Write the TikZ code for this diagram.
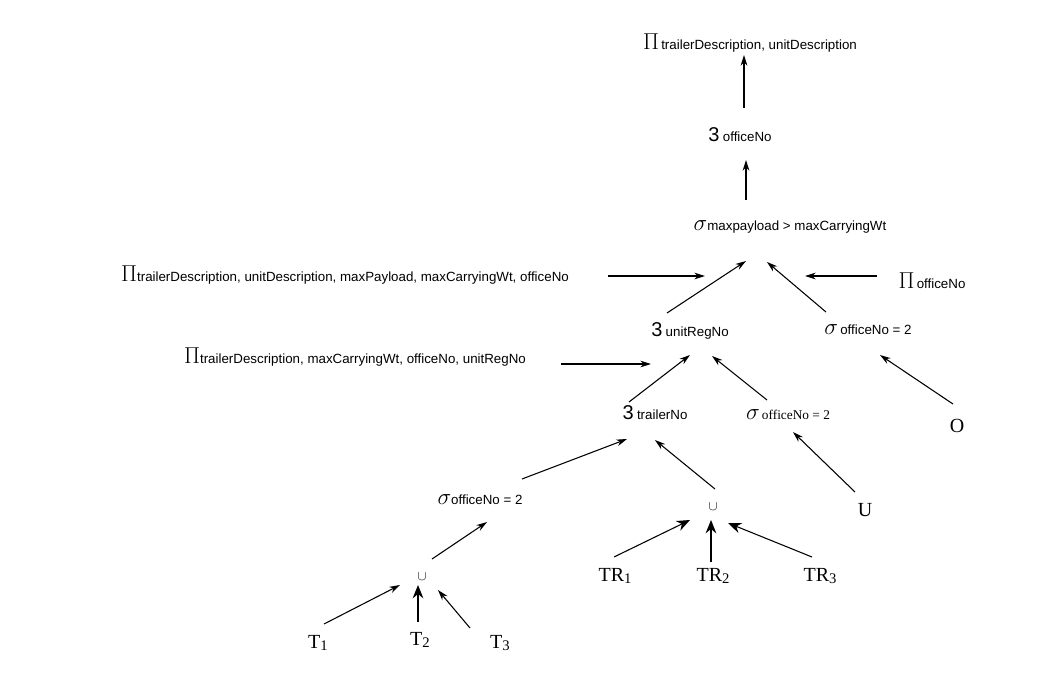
\documentclass[tikz,border=0pt]{standalone}
\usepackage{fontspec}
\setmainfont{Liberation Serif}
\setsansfont{Liberation Sans}
\usetikzlibrary{arrows.meta}
\newcommand\sub[1]{{\sffamily\fontsize{10}{12}\selectfont #1}}
\newcommand\bigop[1]{{\fontsize{17}{18}\selectfont $#1$}}
\newcommand\rel[2]{{\fontsize{15}{16}\selectfont #1\raisebox{-2pt}{\fontsize{11}{12}\selectfont #2}}}
\begin{document}
\begin{tikzpicture}[x=0.75pt,y=-0.75pt,thick,every node/.style={inner sep=1pt},
        >={Stealth[width=5pt,length=8pt]}]
       \useasboundingbox(0,0)rectangle(1054,683);
       % operators
       \node(top)at(750,43){\bigop{\Pi}\,\sub{trailerDescription, unitDescription}};
       \node(exo)at(740,135){\sffamily\fontsize{15}{16}\selectfont 3\,\sub{officeNo}};
       \node(sel)at(790,227){\bigop{\sigma}\sub{maxpayload > maxCarryingWt}};
       \node(pla)at(345,275){\bigop{\Pi}\sub{trailerDescription, unitDescription, maxPayload, maxCarryingWt, officeNo}};
       \node(pof)at(932,281){\bigop{\Pi}\,\sub{officeNo}};
       \node(exu)at(690,331){\sffamily\fontsize{15}{16}\selectfont 3\,\sub{unitRegNo}};
       \node(sou)at(868,330){\bigop{\sigma}\,\sub{officeNo = 2}};
       \node(plb)at(355,357){\bigop{\Pi}\sub{trailerDescription, maxCarryingWt, officeNo, unitRegNo}};
       \node(ext)at(655,413){\sffamily\fontsize{15}{16}\selectfont 3\,\sub{trailerNo}};
       \node(sou2)at(788,415){\bigop{\sigma}\,{\fontsize{10}{12}\selectfont officeNo = 2}};
       \node(o)at(957,426){\fontsize{15}{16}\selectfont O};
       \node(sot)at(480,500){\bigop{\sigma}\sub{officeNo = 2}};
       \node(uni)at(713,507){$\cup$};
       \node(u)at(865,510){\fontsize{15}{16}\selectfont U};
       \node(tr1)at(615,576){\rel{TR}{1}};
       \node(tr2)at(713,576){\rel{TR}{2}};
       \node(tr3)at(820,576){\rel{TR}{3}};
       \node(unl)at(422,577){$\cup$};
       \node(t1)at(318,643){\rel{T}{1}};
       \node(t2)at(420,640){\rel{T}{2}};
       \node(t3)at(500,643){\rel{T}{3}};
       % arrows
       \draw[->](744,108)--(744,55);
       \draw[->](746,200)--(746,160);
       \draw[->](608,276)--(705,276);
       \draw[->](667,313)--(746,261);
       \draw[->](826,312)--(767,262);
       \draw[->](877,276)--(805,276);
       \draw[->](561,364)--(651,364);
       \draw[->](629,402)--(690,355);
       \draw[->](767,400)--(712,356);
       \draw[->](953,404)--(880,355);
       \draw[->](522,479)--(627,439);
       \draw[->](715,489)--(655,440);
       \draw[->](855,492)--(793,432);
       \draw[->](432,559)--(487,522);
       \begin{scope}[>={Stealth[width=8pt,length=10pt]}]
         \draw[->](614,557)--(690,520);
         \draw[->](711,562)--(711,520);
         \draw[->](812,557)--(728,523);
         \draw[->](418,622)--(418,585);
       \end{scope}
       \draw[->](324,624)--(400,585);
       \draw[->](470,628)--(438,590);
    \end{tikzpicture}
\end{document}
